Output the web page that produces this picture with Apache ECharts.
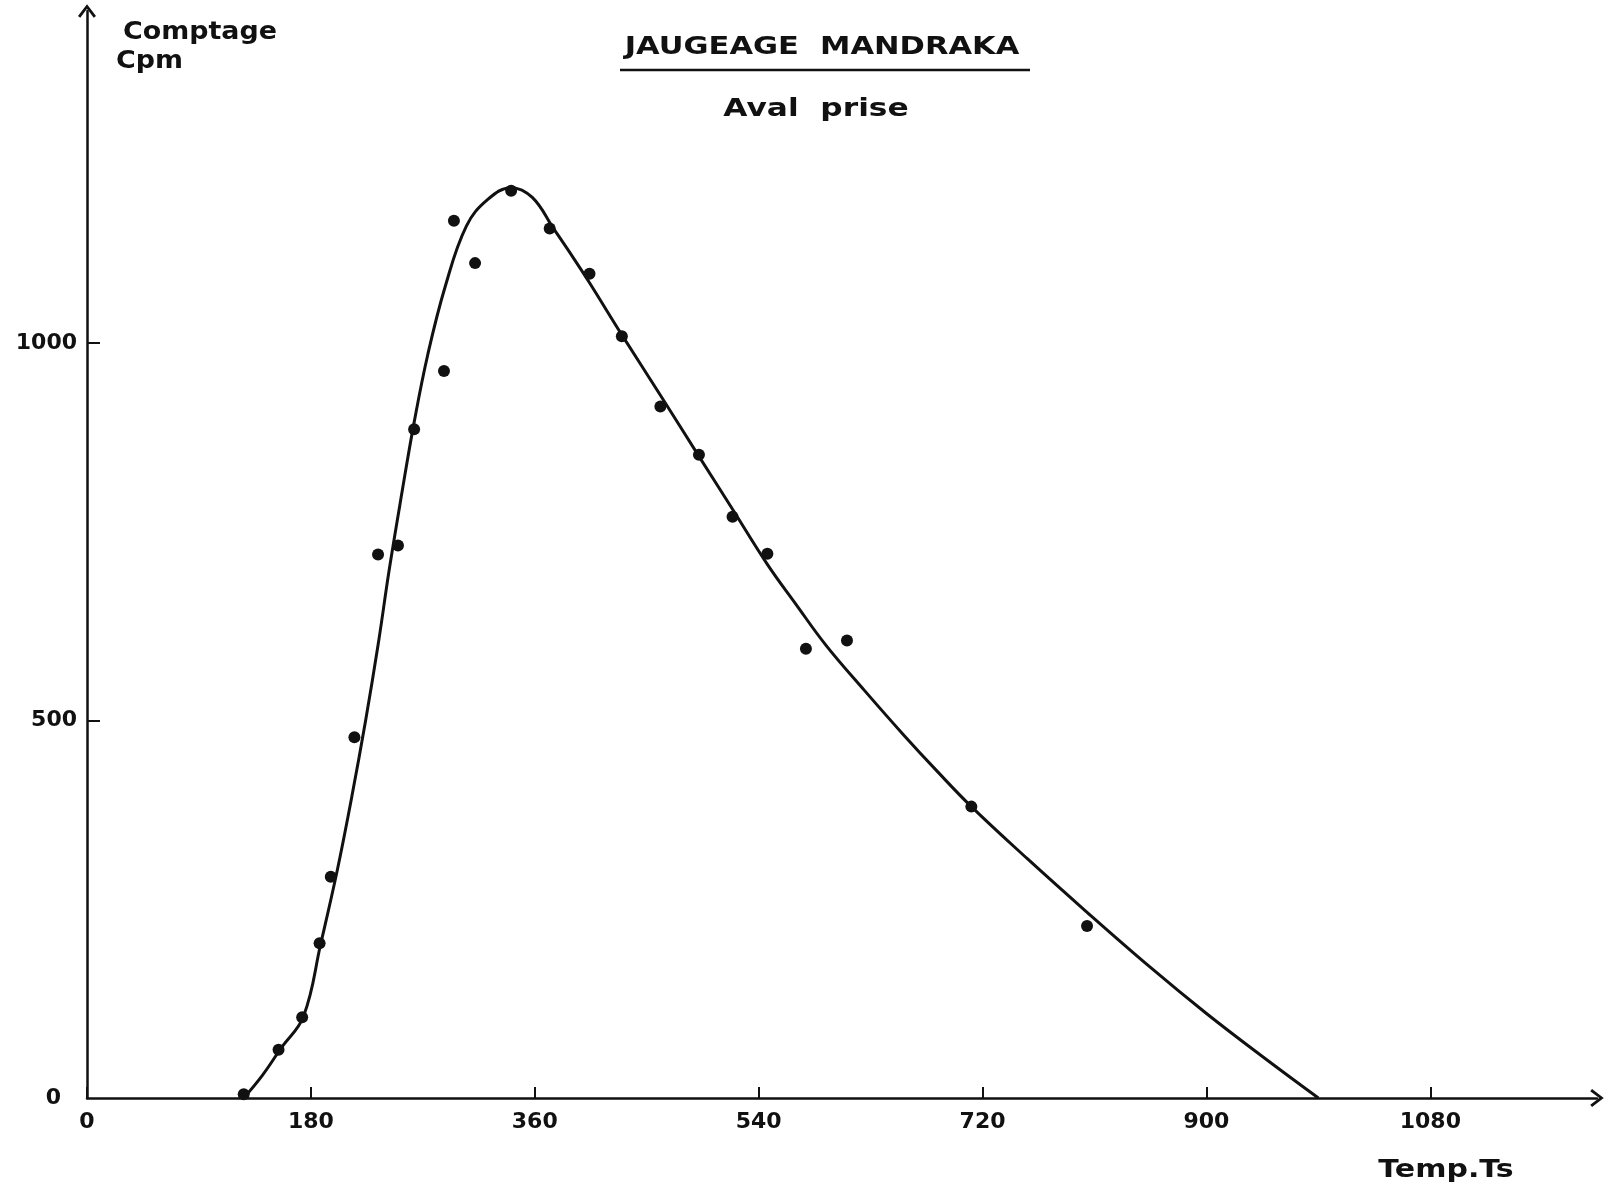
<!DOCTYPE html>
<html>
<head>
<meta charset="utf-8">
<title>Jaugeage Mandraka</title>
<script src="https://cdn.jsdelivr.net/npm/echarts@6/dist/echarts.min.js"></script>
<style>
  html, body { margin: 0; padding: 0; background: #fff; }
  #main { width: 1610px; height: 1192px; }
</style>
</head>
<body>
<div id="main"></div>
<script>
  // points mesurés (temps en s, comptage cpm)
  var timeSec = [126, 154, 173, 187, 196, 215, 234, 250, 263, 287, 295, 312, 341, 372, 404, 430, 461, 492, 519, 547, 578, 611, 711, 804];
  var counts  = [5, 64, 107, 205, 293, 478, 720, 732, 886, 963, 1162, 1106, 1202, 1152, 1092, 1009, 916, 852, 770, 721, 595, 606, 386, 228];

  var curveT   = [126, 141, 156, 174, 188, 201, 213, 224, 234, 243, 253, 263, 274, 288, 305, 322, 341, 358, 375, 391, 404, 430, 461, 492, 519, 547, 570, 594, 625, 656, 684, 711, 756, 802, 855, 900, 945, 990];
  var curveCpm = [0, 30, 66, 108, 205, 300, 400, 500, 600, 700, 800, 895, 985, 1075, 1155, 1190, 1206, 1193, 1152, 1113, 1080, 1011, 931, 850, 780, 707, 654, 600, 540, 482, 432, 386, 317, 249, 173, 112, 55, 0];

  var xTicks = [0, 180, 360, 540, 720, 900, 1080];
  var yTicks = [0, 500, 1000];

  var ink = '#111';
  var font = 'DejaVu Sans';
  // flèche ouverte en bout d'axe
  var chevron = 'path://M0,0 L10,13 L7.5,15 L0,5 L-7.5,15 L-10,13 Z';

  var measured = timeSec.map(function (t, i) { return [t, counts[i]]; });
  var curve = curveT.map(function (t, i) { return [t, curveCpm[i]]; });

  function label(txt, x, y, size, stretch, align) {
    return {
      type: 'text',
      x: x,
      y: y,
      scaleX: stretch,
      style: {
        text: txt,
        fill: ink,
        font: 'bold ' + size + 'px "DejaVu Sans"',
        textAlign: align,
        textVerticalAlign: 'middle'
      }
    };
  }

  var myChart = echarts.init(document.getElementById('main'));

  var option = {
    backgroundColor: '#fff',
    animation: false,
    grid: {
      left: 87,
      top: 11,
      width: 1510,
      height: 1087
    },
    xAxis: {
      type: 'value',
      min: 0,
      max: 1214,
      splitLine: { show: false },
      axisLine: {
        onZero: false,
        symbol: ['none', chevron],
        symbolSize: [18, 16],
        lineStyle: { color: ink, width: 2.5 }
      },
      axisTick: {
        inside: true,
        length: 11,
        customValues: xTicks,
        lineStyle: { color: ink, width: 2 }
      },
      axisLabel: {
        customValues: xTicks,
        formatter: function (v) { return String(v); },
        margin: 13,
        color: ink,
        fontFamily: font,
        fontWeight: 'bold',
        fontSize: 22
      }
    },
    yAxis: {
      type: 'value',
      min: 0,
      max: 1440,
      splitLine: { show: false },
      axisLine: {
        show: true,
        onZero: false,
        symbol: ['none', chevron],
        symbolSize: [18, 16],
        lineStyle: { color: ink, width: 2.5 }
      },
      axisTick: {
        show: true,
        inside: true,
        length: 13,
        customValues: [500, 1000],
        lineStyle: { color: ink, width: 2 }
      },
      axisLabel: {
        customValues: yTicks,
        formatter: function (v) { return v === 0 ? '{z|0}' : String(v); },
        margin: 10,
        color: ink,
        fontFamily: font,
        fontWeight: 'bold',
        fontSize: 22,
        rich: {
          z: { padding: [0, 16, 0, 0], color: ink, fontFamily: font, fontWeight: 'bold', fontSize: 22 }
        }
      }
    },
    graphic: [
      label('Comptage', 123, 33, 24, 1.12, 'left'),
      label('Cpm', 116, 62, 24, 1.12, 'left'),
      label('JAUGEAGE  MANDRAKA', 822, 47, 25, 1.22, 'center'),
      { type: 'line', shape: { x1: 620, y1: 70, x2: 1030, y2: 70 }, style: { stroke: ink, lineWidth: 2.5 } },
      label('Aval  prise', 816, 109, 25, 1.25, 'center'),
      label('Temp.Ts', 1446, 1170, 25, 1.2, 'center')
    ],
    series: [
      {
        name: 'courbe',
        type: 'line',
        data: curve,
        smooth: 0.4,
        showSymbol: false,
        lineStyle: { color: ink, width: 3 },
        z: 2
      },
      {
        name: 'mesures',
        type: 'scatter',
        data: measured,
        symbol: 'circle',
        symbolSize: 12,
        itemStyle: { color: ink, opacity: 1 },
        z: 3
      }
    ]
  };

  myChart.setOption(option);
</script>
</body>
</html>
